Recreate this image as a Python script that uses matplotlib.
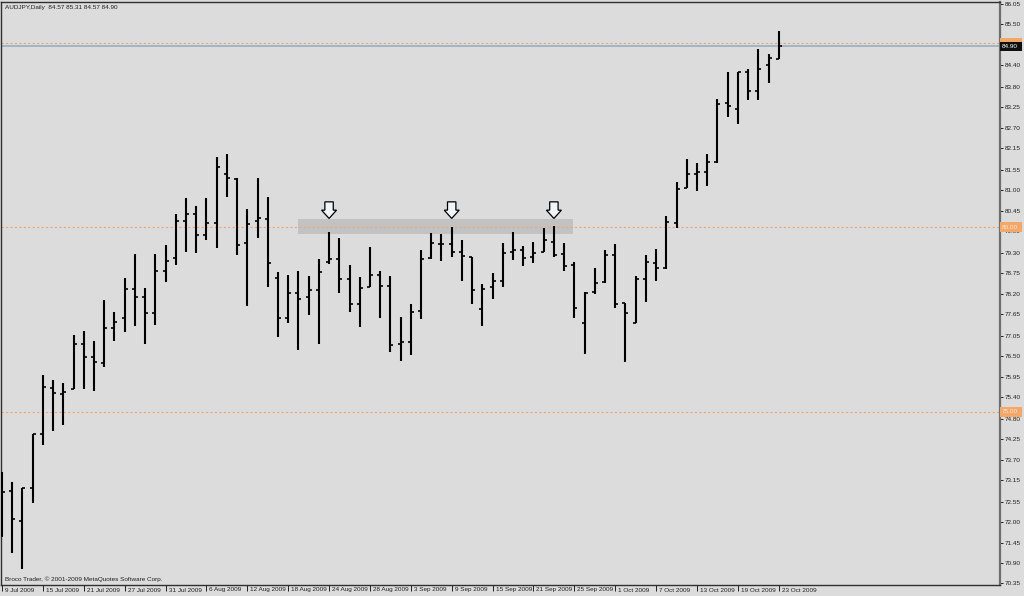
import matplotlib
matplotlib.use('Agg')
import matplotlib.pyplot as plt
import matplotlib.transforms as mtransforms
from matplotlib.patches import Polygon, Rectangle, FancyBboxPatch

plt.rcParams['font.family'] = ['Liberation Sans', 'DejaVu Sans']

# ---- data (AUDJPY daily) ----
opens = [72.60, 72.85, 72.04, 72.94, 74.39, 75.65, 75.47, 75.63, 76.83, 76.49,
         76.33, 77.26, 77.53, 78.34, 78.10, 77.67, 78.82, 79.18, 80.18, 80.36,
         79.79, 80.12, 81.44, 81.30, 79.57, 80.17, 80.23, 78.63, 77.53, 78.23,
         78.11, 78.30, 79.05, 79.15, 78.61, 77.92, 78.39, 78.71, 78.42, 76.83,
         76.90, 77.73, 79.16, 79.56, 79.54, 79.32, 79.19, 77.79, 78.39, 78.55,
         79.34, 79.38, 79.20, 79.34, 79.61, 79.28, 78.98, 77.40, 78.26, 78.53,
         79.25, 77.94, 77.41, 78.60, 79.04, 78.89, 80.12, 81.06, 81.44, 81.51,
         81.78, 83.36, 83.20, 84.22, 83.70, 84.40, 84.57]
highs = [73.38, 73.09, 72.94, 74.39, 76.00, 75.86, 75.79, 77.08, 77.19, 76.93,
         78.03, 77.70, 78.63, 79.28, 78.36, 79.28, 79.52, 80.35, 80.80, 80.58,
         80.80, 81.90, 81.98, 81.34, 80.50, 81.33, 80.81, 78.80, 78.71, 78.82,
         78.68, 79.14, 79.86, 79.71, 78.98, 78.65, 79.46, 78.82, 78.69, 77.58,
         77.92, 79.38, 79.84, 79.82, 80.00, 79.66, 79.20, 78.46, 78.75, 79.57,
         79.88, 79.50, 79.61, 79.97, 80.04, 79.57, 79.07, 78.26, 78.89, 79.38,
         79.55, 77.96, 78.68, 79.25, 79.40, 80.31, 81.22, 81.85, 81.75, 81.99,
         83.47, 84.22, 84.22, 84.29, 84.82, 84.69, 85.31]
lows = [71.61, 71.17, 70.74, 72.52, 74.10, 74.49, 74.64, 75.61, 75.62, 75.57,
        76.22, 76.92, 77.15, 77.33, 76.84, 77.35, 78.53, 78.98, 79.32, 79.30,
        79.66, 79.45, 80.83, 79.25, 77.88, 79.72, 78.39, 77.02, 77.40, 76.67,
        77.62, 76.83, 79.01, 78.23, 77.71, 77.29, 78.37, 77.53, 76.63, 76.39,
        76.54, 77.52, 79.13, 79.08, 79.19, 78.55, 77.91, 77.33, 78.06, 78.39,
        79.11, 78.96, 79.02, 79.32, 79.20, 78.82, 77.53, 76.56, 78.19, 78.48,
        77.81, 76.34, 77.41, 77.97, 78.55, 78.87, 79.97, 81.06, 80.98, 81.13,
        81.75, 82.98, 82.79, 83.45, 83.45, 83.90, 84.57]
closes = [72.83, 72.09, 72.93, 74.39, 75.68, 75.50, 75.53, 76.83, 76.49, 76.36,
          77.26, 77.43, 78.34, 78.12, 77.67, 78.82, 79.10, 80.17, 80.35, 79.79,
          80.11, 81.64, 81.33, 79.52, 80.09, 80.26, 79.02, 77.53, 78.23, 78.07,
          78.30, 78.78, 79.13, 78.61, 77.93, 78.36, 78.70, 78.42, 76.82, 76.90,
          77.71, 79.15, 79.58, 79.56, 79.33, 79.22, 78.30, 78.33, 78.55, 79.31,
          79.38, 79.16, 79.31, 79.66, 79.25, 78.96, 77.82, 78.21, 78.50, 79.25,
          77.92, 77.69, 78.60, 79.07, 78.89, 80.14, 81.04, 81.44, 81.49, 81.78,
          83.34, 83.29, 84.20, 83.70, 84.28, 84.60, 84.90]
date_labels = ["9 Jul 2009", "15 Jul 2009", "21 Jul 2009", "27 Jul 2009",
               "31 Jul 2009", "6 Aug 2009", "12 Aug 2009", "18 Aug 2009",
               "24 Aug 2009", "28 Aug 2009", "3 Sep 2009", "9 Sep 2009",
               "15 Sep 2009", "21 Sep 2009", "25 Sep 2009", "1 Oct 2009",
               "7 Oct 2009", "13 Oct 2009", "19 Oct 2009", "23 Oct 2009"]
date_label_bars = list(range(0, 77, 4))
price_ticks = [86.05, 85.50, 84.90, 84.40, 83.80, 83.25, 82.70, 82.15, 81.55,
               81.00, 80.45, 79.90, 79.30, 78.75, 78.20, 77.65, 77.05, 76.50,
               75.95, 75.40, 74.80, 74.25, 73.70, 73.15, 72.55, 72.00, 71.45,
               70.90, 70.35]
level_lines = [85.00, 80.00, 75.00]
bid_price = 84.90
zone_bars = [28.96, 55.87]
zone_prices = [79.81, 80.23]
arrow_bars = [32, 44, 54]
arrow_top = 80.69
arrow_bottom = 80.24
symbol = "AUDJPY,Daily"
footer = "Broco Trader, \u00a9 2001-2009 MetaQuotes Software Corp."

# ---- figure ----
W, H = 1024, 596
BG = '#dcdcdc'
fig = plt.figure(figsize=(W / 100, H / 100), dpi=100, facecolor=BG)
ax = fig.add_axes([1 / W, 11 / H, 999 / W, 583 / H])
ax.set_facecolor(BG)
ax.set_xlim(-0.1, 97.65)
ax.set_ylim(70.306, 86.106)

px_x = 1 / 10.22   # one pixel in bar units
px_y = 1 / 36.9    # one pixel in price units

# zone
ax.add_patch(FancyBboxPatch((zone_bars[0], zone_prices[0]),
                            zone_bars[1] - zone_bars[0],
                            zone_prices[1] - zone_prices[0],
                            boxstyle='square,pad=0', facecolor='#c2c2c2',
                            edgecolor='none', zorder=1))

# level lines
for lv in level_lines:
    ax.axhline(lv, color='#eaa877', ls=(0, (2, 2)), lw=0.8, zorder=2)
ax.axhline(bid_price, color='#9fb1c4', lw=1.3, zorder=2)

# OHLC bars
xs = list(range(len(closes)))
ax.vlines(xs, lows, highs, color='black', lw=1.5, zorder=4)
ax.hlines(opens, [x - 3 * px_x for x in xs], xs, color='black', lw=1.2, zorder=4)
ax.hlines(closes, xs, [x + 3 * px_x for x in xs], color='black', lw=1.2, zorder=4)

# arrows
for b in arrow_bars:
    mid = arrow_top - 8.3 * px_y
    sw, hw = 4.2 * px_x, 7.5 * px_x
    pts = [(b - sw, arrow_top), (b + sw, arrow_top), (b + sw, mid),
           (b + hw, mid), (b, arrow_bottom), (b - hw, mid), (b - sw, mid)]
    ax.add_patch(Polygon(pts, closed=True, facecolor='#f2f5f8',
                         edgecolor='black', lw=0.9, zorder=5))

# axes styling
for s in ['left', 'top', 'bottom']:
    ax.spines[s].set_color('#303030')
    ax.spines[s].set_linewidth(1.0)
ax.spines['right'].set_color('#6e6e6e')
ax.spines['right'].set_linewidth(1.6)

ax.yaxis.tick_right()
ax.set_yticks(price_ticks)
# the bid price tick is shown by the black bid box instead
ax.set_yticklabels(["" if abs(p - bid_price) < 0.01 else f"{p:.2f}" for p in price_ticks])
ax.tick_params(axis='y', direction='out', length=2, width=0.7, pad=1.5,
               labelsize=4.6, colors='#202020')

ax.set_xticks(date_label_bars)
ax.set_xticklabels([])
ax.tick_params(axis='x', direction='out', length=4.5, width=0.7, colors='#202020')
trans = mtransforms.blended_transform_factory(ax.transData, ax.transAxes)
for b, lab in zip(date_label_bars, date_labels):
    ax.text(b, 0, lab, transform=mtransforms.offset_copy(trans, fig, x=3, y=-2.5, units='dots'),
            ha='left', va='top', fontsize=4.6, color='#202020', clip_on=False)

# right-axis level boxes
ytr = mtransforms.blended_transform_factory(ax.transAxes, ax.transData)
box_w = 22 / 999
for lv in level_lines:
    ax.add_patch(Rectangle((1.0, lv - 5 * px_y), box_w, 10 * px_y, transform=ytr,
                           facecolor='#f3a86a', edgecolor='none', clip_on=False, zorder=6))
    if abs(lv - bid_price) > 0.3:   # label hidden under the bid box otherwise
        ax.text(1.0 + 2 / 999, lv, f"{lv:.2f}", transform=ytr, ha='left', va='center',
                fontsize=4.6, color='#fbe6d4', clip_on=False, zorder=7)
ax.add_patch(Rectangle((1.0, bid_price - 5 * px_y), box_w, 10 * px_y, transform=ytr,
                       facecolor='#101010', edgecolor='none', clip_on=False, zorder=8))
ax.text(1.0 + 2 / 999, bid_price, f"{bid_price:.2f}", transform=ytr, ha='left', va='center',
        fontsize=4.6, color='white', clip_on=False, zorder=9)

# title & footer
title = f"{symbol}  {opens[-1]:.2f} {highs[-1]:.2f} {lows[-1]:.2f} {closes[-1]:.2f}"
fig.text(5 / W, 1 - 7 / H, title, ha='left', va='center', fontsize=4.6, color='#202020')
fig.text(5 / W, 1 - 579 / H, footer, ha='left', va='center', fontsize=4.6, color='#202020')

fig.savefig('out.png', dpi=100, facecolor=BG)
